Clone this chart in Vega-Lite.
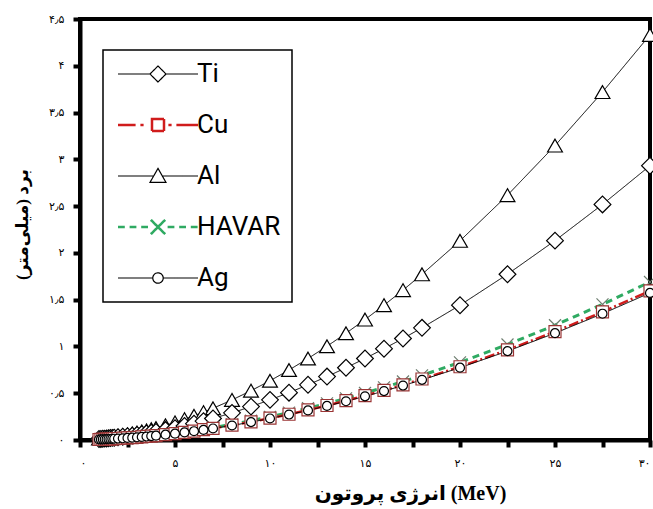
{
  "$schema": "https://vega.github.io/schema/vega-lite/v6.json",
  "width": 570,
  "height": 421,
  "autosize": {"type": "none"},
  "padding": {"left": 80, "top": 19, "right": 3, "bottom": 69},
  "background": "white",
  "config": {
    "view": {"stroke": "black", "strokeWidth": 4},
    "axis": {
      "domainColor": "black", "domainWidth": 4, "tickColor": "black", "tickWidth": 4, "tickSize": 7,
      "grid": false, "labelFont": "DejaVu Sans", "labelFontSize": 11, "labelColor": "black",
      "titleFont": "Liberation Serif, DejaVu Sans", "titleFontWeight": "bold", "titleColor": "black"
    }
  },
  "data": {"values": [
    {"s":"Al","E":1,"R":0.015},{"s":"Al","E":1.1,"R":0.017},{"s":"Al","E":1.2,"R":0.020},{"s":"Al","E":1.3,"R":0.022},{"s":"Al","E":1.4,"R":0.025},{"s":"Al","E":1.5,"R":0.028},{"s":"Al","E":1.6,"R":0.031},{"s":"Al","E":1.7,"R":0.034},{"s":"Al","E":1.8,"R":0.037},{"s":"Al","E":2,"R":0.043},{"s":"Al","E":2.25,"R":0.051},{"s":"Al","E":2.5,"R":0.060},{"s":"Al","E":2.75,"R":0.070},{"s":"Al","E":3,"R":0.080},{"s":"Al","E":3.25,"R":0.091},{"s":"Al","E":3.5,"R":0.103},{"s":"Al","E":3.75,"R":0.115},{"s":"Al","E":4,"R":0.128},{"s":"Al","E":4.5,"R":0.157},{"s":"Al","E":5,"R":0.188},{"s":"Al","E":5.5,"R":0.222},{"s":"Al","E":6,"R":0.259},{"s":"Al","E":6.5,"R":0.298},{"s":"Al","E":7,"R":0.339},{"s":"Al","E":8,"R":0.428},{"s":"Al","E":9,"R":0.527},{"s":"Al","E":10,"R":0.633},{"s":"Al","E":11,"R":0.748},{"s":"Al","E":12,"R":0.871},{"s":"Al","E":13,"R":1.002},{"s":"Al","E":14,"R":1.141},{"s":"Al","E":15,"R":1.287},{"s":"Al","E":16,"R":1.441},{"s":"Al","E":17,"R":1.602},{"s":"Al","E":18,"R":1.771},{"s":"Al","E":20,"R":2.129},{"s":"Al","E":22.5,"R":2.617},{"s":"Al","E":25,"R":3.147},{"s":"Al","E":27.5,"R":3.719},{"s":"Al","E":30,"R":4.33},
    {"s":"Ti","E":1,"R":0.010},{"s":"Ti","E":1.1,"R":0.0115},{"s":"Ti","E":1.2,"R":0.0135},{"s":"Ti","E":1.3,"R":0.015},{"s":"Ti","E":1.4,"R":0.017},{"s":"Ti","E":1.5,"R":0.019},{"s":"Ti","E":1.6,"R":0.021},{"s":"Ti","E":1.7,"R":0.023},{"s":"Ti","E":1.8,"R":0.025},{"s":"Ti","E":2,"R":0.029},{"s":"Ti","E":2.25,"R":0.035},{"s":"Ti","E":2.5,"R":0.041},{"s":"Ti","E":2.75,"R":0.047},{"s":"Ti","E":3,"R":0.054},{"s":"Ti","E":3.25,"R":0.062},{"s":"Ti","E":3.5,"R":0.070},{"s":"Ti","E":3.75,"R":0.078},{"s":"Ti","E":4,"R":0.087},{"s":"Ti","E":4.5,"R":0.106},{"s":"Ti","E":5,"R":0.127},{"s":"Ti","E":5.5,"R":0.150},{"s":"Ti","E":6,"R":0.175},{"s":"Ti","E":6.5,"R":0.202},{"s":"Ti","E":7,"R":0.230},{"s":"Ti","E":8,"R":0.290},{"s":"Ti","E":9,"R":0.357},{"s":"Ti","E":10,"R":0.429},{"s":"Ti","E":11,"R":0.506},{"s":"Ti","E":12,"R":0.590},{"s":"Ti","E":13,"R":0.678},{"s":"Ti","E":14,"R":0.772},{"s":"Ti","E":15,"R":0.871},{"s":"Ti","E":16,"R":0.976},{"s":"Ti","E":17,"R":1.085},{"s":"Ti","E":18,"R":1.199},{"s":"Ti","E":20,"R":1.441},{"s":"Ti","E":22.5,"R":1.772},{"s":"Ti","E":25,"R":2.131},{"s":"Ti","E":27.5,"R":2.518},{"s":"Ti","E":30,"R":2.932},
    {"s":"HAVAR","E":1,"R":0.0059},{"s":"HAVAR","E":1.1,"R":0.0066},{"s":"HAVAR","E":1.2,"R":0.0078},{"s":"HAVAR","E":1.3,"R":0.0086},{"s":"HAVAR","E":1.4,"R":0.0098},{"s":"HAVAR","E":1.5,"R":0.011},{"s":"HAVAR","E":1.6,"R":0.012},{"s":"HAVAR","E":1.7,"R":0.013},{"s":"HAVAR","E":1.8,"R":0.0144},{"s":"HAVAR","E":2,"R":0.017},{"s":"HAVAR","E":2.25,"R":0.020},{"s":"HAVAR","E":2.5,"R":0.023},{"s":"HAVAR","E":2.75,"R":0.027},{"s":"HAVAR","E":3,"R":0.031},{"s":"HAVAR","E":3.25,"R":0.035},{"s":"HAVAR","E":3.5,"R":0.040},{"s":"HAVAR","E":3.75,"R":0.045},{"s":"HAVAR","E":4,"R":0.050},{"s":"HAVAR","E":4.5,"R":0.061},{"s":"HAVAR","E":5,"R":0.073},{"s":"HAVAR","E":5.5,"R":0.087},{"s":"HAVAR","E":6,"R":0.101},{"s":"HAVAR","E":6.5,"R":0.116},{"s":"HAVAR","E":7,"R":0.132},{"s":"HAVAR","E":8,"R":0.167},{"s":"HAVAR","E":9,"R":0.206},{"s":"HAVAR","E":10,"R":0.247},{"s":"HAVAR","E":11,"R":0.292},{"s":"HAVAR","E":12,"R":0.340},{"s":"HAVAR","E":13,"R":0.391},{"s":"HAVAR","E":14,"R":0.445},{"s":"HAVAR","E":15,"R":0.502},{"s":"HAVAR","E":16,"R":0.562},{"s":"HAVAR","E":17,"R":0.625},{"s":"HAVAR","E":18,"R":0.691},{"s":"HAVAR","E":20,"R":0.830},{"s":"HAVAR","E":22.5,"R":1.021},{"s":"HAVAR","E":25,"R":1.227},{"s":"HAVAR","E":27.5,"R":1.450},{"s":"HAVAR","E":30,"R":1.689},
    {"s":"Cu","E":1,"R":0.0055},{"s":"Cu","E":1.1,"R":0.0063},{"s":"Cu","E":1.2,"R":0.0074},{"s":"Cu","E":1.3,"R":0.0081},{"s":"Cu","E":1.4,"R":0.0092},{"s":"Cu","E":1.5,"R":0.010},{"s":"Cu","E":1.6,"R":0.011},{"s":"Cu","E":1.7,"R":0.0125},{"s":"Cu","E":1.8,"R":0.0136},{"s":"Cu","E":2,"R":0.016},{"s":"Cu","E":2.25,"R":0.019},{"s":"Cu","E":2.5,"R":0.022},{"s":"Cu","E":2.75,"R":0.026},{"s":"Cu","E":3,"R":0.029},{"s":"Cu","E":3.25,"R":0.033},{"s":"Cu","E":3.5,"R":0.038},{"s":"Cu","E":3.75,"R":0.042},{"s":"Cu","E":4,"R":0.047},{"s":"Cu","E":4.5,"R":0.058},{"s":"Cu","E":5,"R":0.069},{"s":"Cu","E":5.5,"R":0.082},{"s":"Cu","E":6,"R":0.095},{"s":"Cu","E":6.5,"R":0.110},{"s":"Cu","E":7,"R":0.125},{"s":"Cu","E":8,"R":0.158},{"s":"Cu","E":9,"R":0.194},{"s":"Cu","E":10,"R":0.233},{"s":"Cu","E":11,"R":0.275},{"s":"Cu","E":12,"R":0.321},{"s":"Cu","E":13,"R":0.369},{"s":"Cu","E":14,"R":0.420},{"s":"Cu","E":15,"R":0.474},{"s":"Cu","E":16,"R":0.530},{"s":"Cu","E":17,"R":0.590},{"s":"Cu","E":18,"R":0.652},{"s":"Cu","E":20,"R":0.783},{"s":"Cu","E":22.5,"R":0.963},{"s":"Cu","E":25,"R":1.158},{"s":"Cu","E":27.5,"R":1.369},{"s":"Cu","E":30,"R":1.594},
    {"s":"Ag","E":1,"R":0.0054},{"s":"Ag","E":1.1,"R":0.0062},{"s":"Ag","E":1.2,"R":0.0073},{"s":"Ag","E":1.3,"R":0.008},{"s":"Ag","E":1.4,"R":0.009},{"s":"Ag","E":1.5,"R":0.010},{"s":"Ag","E":1.6,"R":0.011},{"s":"Ag","E":1.7,"R":0.0123},{"s":"Ag","E":1.8,"R":0.0134},{"s":"Ag","E":2,"R":0.0156},{"s":"Ag","E":2.25,"R":0.0185},{"s":"Ag","E":2.5,"R":0.022},{"s":"Ag","E":2.75,"R":0.025},{"s":"Ag","E":3,"R":0.029},{"s":"Ag","E":3.25,"R":0.033},{"s":"Ag","E":3.5,"R":0.037},{"s":"Ag","E":3.75,"R":0.042},{"s":"Ag","E":4,"R":0.046},{"s":"Ag","E":4.5,"R":0.057},{"s":"Ag","E":5,"R":0.068},{"s":"Ag","E":5.5,"R":0.081},{"s":"Ag","E":6,"R":0.094},{"s":"Ag","E":6.5,"R":0.108},{"s":"Ag","E":7,"R":0.123},{"s":"Ag","E":8,"R":0.155},{"s":"Ag","E":9,"R":0.191},{"s":"Ag","E":10,"R":0.230},{"s":"Ag","E":11,"R":0.272},{"s":"Ag","E":12,"R":0.316},{"s":"Ag","E":13,"R":0.364},{"s":"Ag","E":14,"R":0.414},{"s":"Ag","E":15,"R":0.467},{"s":"Ag","E":16,"R":0.523},{"s":"Ag","E":17,"R":0.582},{"s":"Ag","E":18,"R":0.643},{"s":"Ag","E":20,"R":0.773},{"s":"Ag","E":22.5,"R":0.950},{"s":"Ag","E":25,"R":1.142},{"s":"Ag","E":27.5,"R":1.350},{"s":"Ag","E":30,"R":1.572}
  ]},
  "encoding": {
    "x": {"field": "E", "type": "quantitative",
      "scale": {"domain": [0, 30], "nice": false, "zero": false},
      "axis": {
        "title": "انرژی پروتون (MeV)", "titleFontSize": 20, "titleX": 330, "titleY": 53, "titleBaseline": "middle",
        "values": [0, 2.5, 5, 7.5, 10, 12.5, 15, 17.5, 20, 22.5, 25, 27.5, 30],
        "format": ".1~f", "labelPadding": 10,
        "labelExpr": "datum.value % 5 === 0 ? replace(replace(replace(replace(replace(datum.label,'0','۰'),'1','۱'),'2','۲'),'3','۳'),'5','۵') : ''"
      }},
    "y": {"field": "R", "type": "quantitative",
      "scale": {"domain": [0, 4.5], "nice": false},
      "axis": {
        "title": "برد (میلی‌متر)", "titleFontSize": 17, "titleX": -58, "titleY": 205, "titleBaseline": "middle", "titleAngle": 270,
        "values": [0, 0.5, 1, 1.5, 2, 2.5, 3, 3.5, 4, 4.5],
        "format": ".2~f", "labelPadding": 9,
        "labelExpr": "replace(replace(replace(replace(replace(replace(replace(datum.label,'.','٫'),'0','۰'),'1','۱'),'2','۲'),'3','۳'),'4','۴'),'5','۵')"
      }}
  },
  "layer": [
    {
      "mark": {"type": "line", "clip": true},
      "encoding": {
        "detail": {"field": "s"},
        "stroke": {"field": "s", "type": "nominal",
          "scale": {"domain": ["Ti", "Cu", "Al", "HAVAR", "Ag"], "range": ["black", "#d01c1c", "black", "#2faa62", "black"]},
          "legend": {
            "title": null, "orient": "none", "legendX": 23, "legendY": 31,
            "strokeColor": "black", "fillColor": "white", "padding": 11,
            "symbolSize": 256, "symbolOffset": 31, "labelOffset": 26, "rowPadding": 25,
            "labelFont": "Roboto", "labelFontSize": 26, "labelColor": "black", "labelBaseline": "middle",
            "encode": {
              "legend": {"update": {"strokeWidth": {"value": 1.5}}},
              "symbols": {"update": {
              "shape": {"signal": "datum.value==='Ti' ? 'M-5,0L-1,0M-1,0L0,-1L1,0L0,1ZM1,0L5,0' : datum.value==='Cu' ? 'M-5,0L-2.8,0M-2.2,0L-1.8,0M-0.75,-0.75L0.75,-0.75L0.75,0.75L-0.75,0.75ZM1.3,0L1.7,0M2.3,0L5,0' : datum.value==='Al' ? 'M-5,0L-0.55,0M-1,0.8L0,-0.95L1,0.8ZM0.55,0L5,0' : datum.value==='HAVAR' ? 'M-5,0L-4.15,0M-3.55,0L-2.7,0M-2.1,0L-1.25,0M-0.9,-0.9L0.9,0.9M-0.9,0.9L0.9,-0.9M1.2,0L2.05,0M2.65,0L3.5,0M4.1,0L4.95,0' : 'M-5,0L-0.65,0M0.65,0A0.65,0.65,0,1,1,-0.65,0A0.65,0.65,0,1,1,0.65,0ZM0.65,0L5,0'"},
              "strokeWidth": {"signal": "datum.value==='Cu' || datum.value==='HAVAR' ? 2.5 : 1.2"},
              "fill": {"value": "white"},
              "fillOpacity": {"value": 1},
              "opacity": {"value": 1},
              "strokeDash": {"value": [1, 0]}
            }}}
          }},
        "strokeDash": {"field": "s", "type": "nominal",
          "scale": {"domain": ["Al", "Ti", "HAVAR", "Cu", "Ag"], "range": [[1, 0], [1, 0], [7, 5], [10, 3, 2, 3], [1, 0]]},
          "legend": null},
        "strokeWidth": {"field": "s", "type": "nominal",
          "scale": {"type": "ordinal", "domain": ["Al", "Ti", "HAVAR", "Cu", "Ag"], "range": [1, 1, 3, 2.5, 1]},
          "legend": null}
      }
    },
    {
      "mark": {"type": "point", "filled": false, "fill": "white", "fillOpacity": 1, "opacity": 1, "strokeWidth": 1.2, "clip": false},
      "encoding": {
        "color": {"field": "s", "type": "nominal",
          "scale": {"domain": ["Al", "Ti", "HAVAR", "Cu", "Ag"], "range": ["black", "black", "#6d7d6f", "#9a3434", "black"]},
          "legend": null},
        "shape": {"field": "s", "type": "nominal",
          "scale": {"domain": ["Al", "Ti", "HAVAR", "Cu", "Ag"], "range": ["triangle-up", "diamond", "M-1,-1L1,1M-1,1L1,-1", "square", "circle"]},
          "legend": null},
        "size": {"field": "s", "type": "nominal",
          "scale": {"type": "ordinal", "domain": ["Al", "Ti", "HAVAR", "Cu", "Ag"], "range": [220, 280, 144, 144, 80]},
          "legend": null}
      }
    }
  ]
}
